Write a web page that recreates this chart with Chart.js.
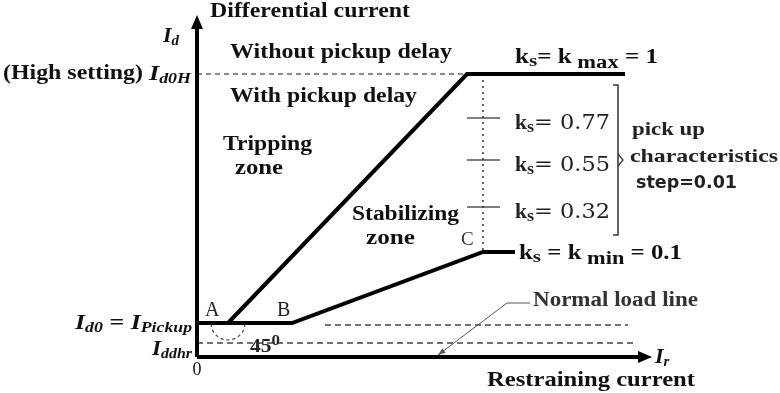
<!DOCTYPE html>
<html><head><meta charset="utf-8">
<script src="https://cdn.jsdelivr.net/npm/chart.js@4/dist/chart.umd.min.js"></script>
<style>html,body{margin:0;padding:0;background:#fff}canvas{display:block}</style>
</head><body>
<canvas id="c" width="780" height="393" style="width:780px;height:393px"></canvas>
<script>
// Characteristic (arbitrary units, origin at axes crossing)
const Id0 = 3.4;        // I_d0 = I_pickup
const Iddhr = 1.4;      // I_ddhr
const Id0H = 28.3;      // high setting
const kmaxX = [3.1, 27.0, 42.8];
const kmaxY = [Id0, Id0H, Id0H];
const kminX = [0, 9.5, 28.6, 31.8];
const kminY = [Id0, Id0, 10.5, 10.5];
const kLabels = ['0.77', '0.55', '0.32'];
const kTickY = [23.9, 19.7, 15.0];
const axisXMax = 45.5, axisYMax = 34.2;

const toPts = (xs, ys) => xs.map((x, i) => ({x, y: ys[i]}));
const solid = (data, w) => ({data, showLine:true, borderColor:'#000', borderWidth:w, pointRadius:0, borderCapStyle:'butt', borderJoinStyle:'miter', clip:false});
const dashed = (data, dash, col, w) => ({data, showLine:true, borderColor:col, borderWidth:w, borderDash:dash, pointRadius:0, clip:false});

const datasets = [
  solid(toPts([0, axisXMax - 1.2], [0, 0]), 4),
  solid(toPts([0, 0], [0, axisYMax - 1.2]), 4),
  solid(toPts(kmaxX, kmaxY), 4),
  solid(toPts(kminX, kminY), 4),
  dashed(toPts([0, kmaxX[1]], [Id0H, Id0H]), [5, 4], '#666', 1.5),
  dashed(toPts([kminX[2], kminX[2]], [Id0H, kminY[2]]), [2, 4], '#333', 1.5),
  dashed(toPts([0, 43.8], [Iddhr, Iddhr]), [6, 4], '#444', 1.3),
  dashed(toPts([12.8, 43.1], [3.2, 3.2]), [6, 4], '#444', 1.3),
];
kTickY.forEach(y => datasets.push({data: toPts([27.0, 30.3], [y, y]), showLine:true, borderColor:'#555', borderWidth:1.5, pointRadius:0, clip:false}));
// bracket
datasets.push({data: toPts([41.6, 42.1, 42.1, 41.6], [27.2, 27.2, 12.2, 12.2]), showLine:true, borderColor:'#333', borderWidth:1.5, pointRadius:0, clip:false});
// normal load pointer
datasets.push({data: toPts([33.3, 31.0, 24.1], [5.4, 5.4, 0.2]), showLine:true, borderColor:'#555', borderWidth:1, pointRadius:0, clip:false});

const F = (s, st) => (st || 'bold') + ' ' + s + 'px "Liberation Serif"';
const SB = F(20), SBI = F(22, 'italic bold'), SUBI = F(15, 'italic bold');
const CAM = '21px "DejaVu Serif"';
const labels = [
  {x: 1.3, y: 34.5, w: 200, segs: [['Differential current', F(21), 0]]},
  {x: -3.4, y: 32.1, segs: [['I', SBI, 0], ['d', SUBI, 5]]},
  {x: 3.3, y: 30.4, w: 222, segs: [['Without pickup delay', SB, 0]]},
  {x: -19.4, y: 28.3, w: 188, segs: [['(High setting) ', SB, 0], ['I', SBI, 0], ['d0H', SUBI, 5]]},
  {x: 3.3, y: 26.0, w: 187, segs: [['With pickup delay', SB, 0]]},
  {x: 2.6, y: 21.2, w: 89, segs: [['Tripping', SB, 0]]},
  {x: 3.8, y: 18.8, w: 48, segs: [['zone', SB, 0]]},
  {x: 15.5, y: 14.2, w: 107, segs: [['Stabilizing', SB, 0]]},
  {x: 16.9, y: 11.8, w: 49, segs: [['zone', SB, 0]]},
  {x: 26.4, y: 11.7, segs: [['C', '19px "Liberation Serif"', 0]], col: '#333'},
  {x: 31.8, y: 29.9, w: 143, segs: [['k', SB, 0], ['s', F(17), 4], ['= k', SB, 0], [' max', F(18), 5], [' = 1', SB, 0]]},
  {x: 32.2, y: 10.3, w: 163, segs: [['k', SB, 0], ['s', F(17), 4], [' = k', SB, 0], [' min', F(18), 5], [' = 0.1', SB, 0]]},
  {x: 43.5, y: 22.7, w: 73, segs: [['pick up', F(19), 0]], col: '#222'},
  {x: 43.3, y: 20.0, w: 148, segs: [['characteristics', F(19), 0]], col: '#222'},
  {x: 43.9, y: 17.3, w: 101, segs: [['step=0.01', 'bold 17px "DejaVu Sans"', 0]], col: '#222'},
  {x: 0.0, y: -1.3, segs: [['0', '18px "Liberation Serif"', 0]], align: 'center'},
  {x: 0.8, y: 4.6, segs: [['A', '20px "Liberation Serif"', 0]], col: '#222'},
  {x: 8.0, y: 4.6, segs: [['B', '20px "Liberation Serif"', 0]], col: '#222'},
  {x: 5.3, y: 1.0, w: 30, segs: [['45', F(19), 0], ['0', F(15), -6]], col: '#222'},
  {x: 33.6, y: 5.6, w: 165, segs: [['Normal load line', F(20), 0]], col: '#333'},
  {x: 45.8, y: 0.0, segs: [['I', SBI, 0], ['r', SUBI, 5]]},
  {x: 29.0, y: -2.4, w: 208, segs: [['Restraining current', F(21), 0]]},
];
const rightLabels = [
  {x: -0.5, y: Id0, w: 117, segs: [['I', SBI, 0], ['d0', SUBI, 5], [' = ', SBI, 0], ['I', SBI, 0], ['Pickup', SUBI, 5]]},
  {x: -0.5, y: Iddhr - 0.6, w: 40, segs: [['I', SBI, 0], ['ddhr', SUBI, 5]]},
];

function drawSegs(ctx, px, py, segs, col, align, w) {
  ctx.save();
  ctx.fillStyle = col || '#111';
  ctx.textBaseline = 'middle';
  let total = 0;
  segs.forEach(s => { ctx.font = s[1]; total += ctx.measureText(s[0]).width; });
  const sx = w ? w / total : 1;
  const tw = total * sx;
  const x0 = align === 'right' ? px - tw : align === 'center' ? px - tw / 2 : px;
  ctx.translate(x0, py);
  ctx.scale(sx, 1);
  let x = 0;
  segs.forEach(s => { ctx.font = s[1]; ctx.fillText(s[0], x, s[2]); x += ctx.measureText(s[0]).width; });
  ctx.restore();
}

const overlay = {
  id: 'overlay',
  afterDraw(chart) {
    const ctx = chart.ctx, xs = chart.scales.x, ys = chart.scales.y;
    const X = v => xs.getPixelForValue(v), Y = v => ys.getPixelForValue(v);
    ctx.save();
    ctx.fillStyle = '#000';
    ctx.beginPath();
    ctx.moveTo(X(0), Y(axisYMax)); ctx.lineTo(X(0) - 6, Y(axisYMax) + 14); ctx.lineTo(X(0) + 6, Y(axisYMax) + 14); ctx.closePath(); ctx.fill();
    ctx.beginPath();
    ctx.moveTo(X(axisXMax), Y(0)); ctx.lineTo(X(axisXMax) - 14, Y(0) - 6); ctx.lineTo(X(axisXMax) - 14, Y(0) + 6); ctx.closePath(); ctx.fill();
    // brace point
    ctx.strokeStyle = '#333'; ctx.lineWidth = 1.3;
    ctx.beginPath(); ctx.moveTo(X(42.1), Y(20.3)); ctx.lineTo(X(42.6), Y(19.7)); ctx.lineTo(X(42.1), Y(19.1)); ctx.stroke();
    // normal load arrow head
    ctx.fillStyle = '#555';
    const ax = X(24.1), ay = Y(0.2), ang = Math.atan2(Y(0.2) - Y(5.4), X(24.1) - X(31.0));
    ctx.beginPath(); ctx.moveTo(ax, ay);
    ctx.lineTo(ax - 8 * Math.cos(ang - 0.35), ay - 8 * Math.sin(ang - 0.35));
    ctx.lineTo(ax - 8 * Math.cos(ang + 0.35), ay - 8 * Math.sin(ang + 0.35));
    ctx.closePath(); ctx.fill();
    // 45 degree dashed arc at A
    ctx.strokeStyle = '#444'; ctx.lineWidth = 1.2; ctx.setLineDash([3, 3]);
    ctx.beginPath(); ctx.arc(X(kmaxX[0]), Y(Id0), 17, Math.PI * 0.02, Math.PI * 0.98); ctx.stroke();
    ctx.setLineDash([]);
    ctx.restore();
    labels.forEach(l => drawSegs(ctx, X(l.x), Y(l.y), l.segs, l.col, l.align, l.w));
    rightLabels.forEach(l => drawSegs(ctx, X(l.x), Y(l.y), l.segs, l.col, 'right', l.w));
    kLabels.forEach((t, i) => drawSegs(ctx, X(31.8), Y(kTickY[i]) + 6, [['k', SB, 0], ['s', F(17), 4], ['= ' + t, CAM, 0]], '#222', 'left', 95));
  }
};

new Chart(document.getElementById('c'), {
  type: 'scatter',
  data: {datasets},
  options: {
    responsive: false, animation: false,
    layout: {padding: 0},
    plugins: {legend: {display: false}, tooltip: {enabled: false}},
    scales: {
      x: {type: 'linear', min: -19.7, max: 58.3, display: false},
      y: {type: 'linear', min: -3.6, max: 35.7, display: false}
    }
  },
  plugins: [overlay]
});
</script>
</body></html>
